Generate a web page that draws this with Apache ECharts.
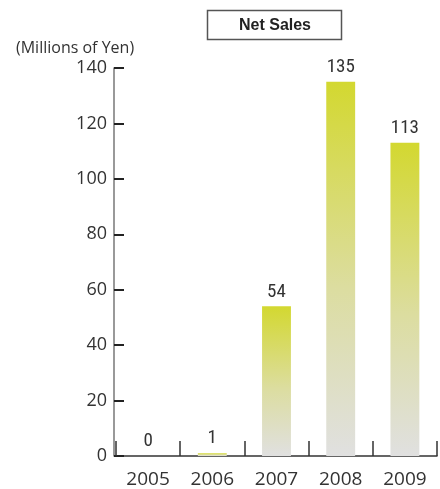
<!DOCTYPE html>
<html><head><meta charset="utf-8">
<script src="https://cdn.jsdelivr.net/npm/echarts@6/dist/echarts.min.js"></script>
<style>html,body{margin:0;padding:0;background:#fff}#c{width:440px;height:489px}</style>
</head><body><div id="c"></div>
<script>
var categories = ['2005','2006','2007','2008','2009'];
var netSales = [0, 1, 54, 135, 113];
var yTicks = [0, 20, 40, 60, 80, 100, 120, 140];
var chartTitle = 'Net Sales';
var unitLabel = '(Millions of Yen)';

var chart = echarts.init(document.getElementById('c'), null, {renderer: 'canvas'});
chart.setOption({
  animation: false,
  grid: {left: 116, right: 3, top: 68, bottom: 32, containLabel: false},
  graphic: [
    {type: 'rect', shape: {x: 207.5, y: 10.5, width: 134, height: 29},
     style: {fill: '#fff', stroke: '#555', lineWidth: 1.5}},
    {type: 'text', x: 275, y: 25.5,
     style: {text: chartTitle, font: 'bold 16px "Liberation Sans", Arial, sans-serif', fill: '#222', align: 'center', verticalAlign: 'middle'}},
    {type: 'text', x: 16, y: 48,
     style: {text: unitLabel, font: '16px "Open Sans", sans-serif', fill: '#333', align: 'left', verticalAlign: 'middle'}}
  ],
  xAxis: {
    type: 'category', data: categories,
    axisLine: {lineStyle: {color: '#333', width: 1.5}},
    axisTick: {show: true, inside: true, length: 15, lineStyle: {color: '#333', width: 1.5}},
    axisLabel: {color: '#333', fontSize: 19, fontFamily: '"Open Sans", sans-serif', margin: 14}
  },
  yAxis: {
    type: 'value', min: yTicks[0], max: yTicks[yTicks.length - 1], interval: 20, offset: 2,
    splitLine: {show: false},
    axisLine: {show: true, lineStyle: {color: '#777', width: 1.5}},
    axisTick: {show: true, inside: true, length: 10, lineStyle: {color: '#222', width: 2}},
    axisLabel: {color: '#333', fontSize: 18, fontFamily: '"Open Sans", sans-serif', margin: 7}
  },
  series: [{
    type: 'bar', data: netSales, barWidth: '45%',
    itemStyle: {color: new echarts.graphic.LinearGradient(0, 0, 0, 1, [
      {offset: 0, color: '#d3d830'}, {offset: 0.55, color: '#dcdda0'}, {offset: 1, color: '#e0e0e0'}])},
    label: {show: true, position: 'top', distance: 5, color: '#333', fontSize: 19,
      fontFamily: '"Liberation Sans Narrow", "Roboto Condensed", sans-serif'}
  }]
});
</script></body></html>
